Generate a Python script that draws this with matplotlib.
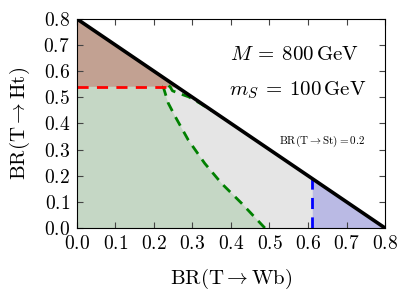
import numpy as np
import matplotlib
matplotlib.use("Agg")
import matplotlib.pyplot as plt
from matplotlib.ticker import FuncFormatter

plt.rcParams["mathtext.fontset"] = "cm"
plt.rcParams["font.family"] = "serif"
plt.rcParams["font.serif"] = ["cmr10", "DejaVu Serif"]
plt.rcParams["axes.formatter.use_mathtext"] = True

# boundary of allowed region: BR(Wb) + BR(Ht) = 1 - BR(St)
br_st = 0.2
edge_x = [0.0, 0.8]
edge_y = [0.8, 0.0]

# red limit on BR(T -> Ht)
ht_limit = 0.54

# green contour, lower branch then the part along the edge
green_x = [0.488, 0.428, 0.376, 0.332, 0.289, 0.255, 0.237, 0.224,
           0.232, 0.242, 0.248, 0.265, 0.290, 0.320, 0.350]
green_y = [0.0, 0.094, 0.170, 0.247, 0.337, 0.427, 0.478, 0.541,
           0.552, 0.540, 0.525, 0.515, 0.502, 0.477, 0.449]
n_low = 8

# blue limit on BR(T -> Wb)
wb_limit = 0.61

fig = plt.figure(figsize=(4.07, 3.0), dpi=100)
ax = fig.add_axes([0.189, 0.24, 0.757, 0.697])

xs = np.linspace(0, 0.8, 200)
top = 0.8 - xs
ax.fill_between(xs, 0, top, color="#e5e5e5", lw=0)

# brown: above the red limit
mask = top >= ht_limit
ax.fill_between(xs[mask], ht_limit, top[mask], color="#c2a192", lw=0)

# green: below the contour and the red limit
gx = [0.0, 0.0] + green_x[n_low - 1::-1]
gy = [0.0, ht_limit] + green_y[n_low - 1::-1]
ax.fill(gx, gy, color="#c5d7c5", lw=0)

# blue: right of the Wb limit
mask = xs >= wb_limit
ax.fill_between(xs[mask], 0, top[mask], color="#babae4", lw=0)

ax.plot(green_x, green_y, color="green", lw=2, ls=(0, (3.5, 2.5)))
ax.plot([0, 0.8 - ht_limit - 0.01], [ht_limit, ht_limit], color="red", lw=2, ls=(0, (4, 3)))
ax.plot([wb_limit, wb_limit], [0, 0.8 - wb_limit], color="blue", lw=2, ls=(0, (4, 3)))
ax.plot(edge_x, edge_y, color="black", lw=2.6)

ax.set_xlim(0, 0.8)
ax.set_ylim(0, 0.8)
ax.set_xticks(np.arange(0, 0.81, 0.1))
ax.set_yticks(np.arange(0, 0.81, 0.1))
fmt = FuncFormatter(lambda v, p: r"$%.1f$" % v)
ax.xaxis.set_major_formatter(fmt)
ax.yaxis.set_major_formatter(fmt)
ax.tick_params(direction="in", top=True, right=True, labelsize=14, length=4,
               color="#444444", pad=5)

ax.set_xlabel(r"$\mathrm{BR}(\mathrm{T}\rightarrow\mathrm{Wb})$", fontsize=15, labelpad=10)
ax.set_ylabel(r"$\mathrm{BR}(\mathrm{T}\rightarrow\mathrm{Ht})$", fontsize=15, labelpad=8)

ax.text(0.705, 0.828, r"$M\:=\:800\,\mathrm{GeV}$", transform=ax.transAxes,
        fontsize=15, ha="center", va="center")
ax.text(0.715, 0.66, r"$m_S\:=\:100\,\mathrm{GeV}$", transform=ax.transAxes,
        fontsize=15, ha="center", va="center")
ax.text(0.796, 0.413, r"$\mathrm{BR}(\mathrm{T}\rightarrow\mathrm{St})=%.1f$" % br_st,
        transform=ax.transAxes, fontsize=8, ha="center", va="center")

fig.savefig("out.png", dpi=100)
